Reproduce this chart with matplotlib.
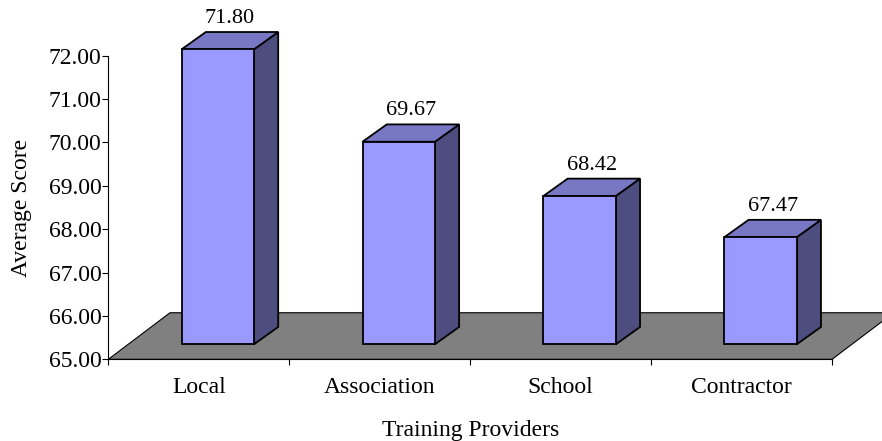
import numpy as np
import matplotlib.pyplot as plt
from matplotlib.patches import Polygon

# --- data ---
providers = ["Local", "Association", "School", "Contractor"]
scores = [71.80, 69.67, 68.42, 67.47]
y_ticks = [65, 66, 67, 68, 69, 70, 71, 72]

plt.rcParams['font.family'] = ['Liberation Serif', 'DejaVu Serif']

fig = plt.figure(figsize=(8.82, 4.41), dpi=100)
ax = fig.add_axes([0.1228, 0.1852, 0.8205, 0.6885])
base = 65.0
ax.set_xlim(-0.5, len(providers) - 0.5)
ax.set_ylim(y_ticks[0], y_ticks[-1])

# fake 3D: offsets in data units
front_dx, front_dy = 0.105, 0.346   # bar front face sits a bit back on the floor
depth_dx, depth_dy = 0.134, 0.40    # bar depth
floor_dx, floor_dy = 0.341, 1.074   # floor depth
w = 0.4

x_lo, x_hi = -0.5, len(providers) - 0.5
floor = Polygon([(x_lo, base), (x_hi, base),
                 (x_hi + floor_dx, base + floor_dy), (x_lo + floor_dx, base + floor_dy)],
                closed=True, fc='#808080', ec='black', lw=0.8, clip_on=False, zorder=1)
ax.add_patch(floor)

front_col = '#9999FF'
top_col = '#7777C4'
side_col = '#4D4D80'

for i, v in enumerate(scores):
    x0 = i - w / 2 + front_dx
    x1 = i + w / 2 + front_dx
    y0 = base + front_dy
    y1 = v + front_dy
    side = [(x1, y0), (x1 + depth_dx, y0 + depth_dy), (x1 + depth_dx, y1 + depth_dy), (x1, y1)]
    top = [(x0, y1), (x1, y1), (x1 + depth_dx, y1 + depth_dy), (x0 + depth_dx, y1 + depth_dy)]
    front = [(x0, y0), (x1, y0), (x1, y1), (x0, y1)]
    for pts, col in [(side, side_col), (top, top_col), (front, front_col)]:
        ax.add_patch(Polygon(pts, closed=True, fc=col, ec='black', lw=1.3,
                             joinstyle='miter', clip_on=False, zorder=3))
    ax.annotate(f'{v:.2f}', xy=(i + front_dx + depth_dx / 2, v + front_dy + depth_dy),
                xytext=(0, 6.5), textcoords='offset points', ha='center', va='baseline',
                fontsize=16, annotation_clip=False)

# axes styling
for s in ['top', 'right']:
    ax.spines[s].set_visible(False)
ax.spines['left'].set_linewidth(0.8)
ax.spines['bottom'].set_linewidth(0.8)
ax.spines['bottom'].set_zorder(2)

ax.set_yticks(y_ticks)
ax.set_yticklabels([f'{t:.2f}' for t in y_ticks], fontsize=17)
ax.tick_params(axis='y', direction='out', length=4, width=0.8, pad=1)

ax.set_xticks(np.arange(len(providers) + 1) - 0.5)
ax.set_xticklabels([])
ax.tick_params(axis='x', which='major', direction='out', length=4.5, width=0.8)
ax.set_xticks(np.arange(len(providers)), minor=True)
ax.set_xticklabels(providers, minor=True, fontsize=17)
ax.tick_params(axis='x', which='minor', length=0, pad=12.5)

ax.set_xlabel('Training Providers', fontsize=17, labelpad=16)
ax.set_ylabel('Average Score', fontsize=17, labelpad=12)
ax.patch.set_visible(False)

fig.savefig('out.png', dpi=100)
